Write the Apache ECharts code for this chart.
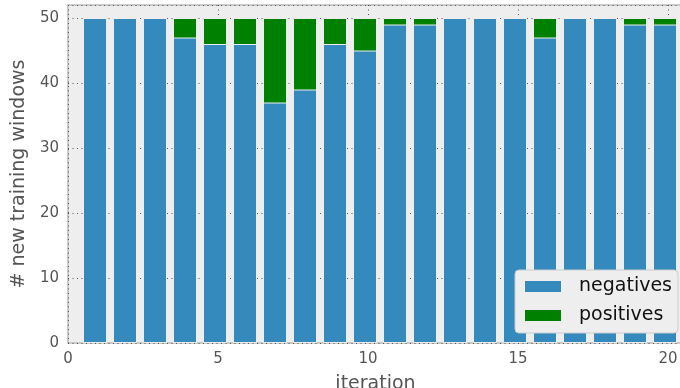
<!DOCTYPE html>
<html><head><meta charset="utf-8">
<script src="https://cdn.jsdelivr.net/npm/echarts@6/dist/echarts.min.js"></script>
<style>html,body{margin:0;padding:0;background:#fff}#c{width:680px;height:388px}</style>
</head><body><div id="c"></div>
<script>
const iterations = [1,2,3,4,5,6,7,8,9,10,11,12,13,14,15,16,17,18,19,20];
const negatives = [50,50,50,47,46,46,37,39,46,45,49,49,50,50,50,47,50,50,49,49];
const positives = [0,0,0,3,4,4,13,11,4,5,1,1,0,0,0,3,0,0,1,1];
const xTicks = [0,5,10,15,20];
const yTicks = [0,10,20,30,40,50];
const BAR_W = 0.8;
// bars drawn with edge alignment at (iteration - 0.5), width 0.8 -> center offset
const center = it => it - 0.5 + BAR_W/2;
// stacked top of positives = negatives + positives
const stackTop = negatives.map((v,i)=>v+positives[i]);

const chart = echarts.init(document.getElementById('c'), null, {renderer:'canvas'});
const font = 'DejaVu Sans';
chart.setOption({
  animation:false,
  backgroundColor:'#ffffff',
  grid:{show:true, left:68, right:-3, top:5, bottom:45, outerBoundsMode:'none', containLabel:false,
        backgroundColor:'#eeeeee', borderColor:'#bcbcbc', borderWidth:1.5},
  legend:{
    right:2, bottom:55, orient:'vertical', itemWidth:38, itemHeight:13, itemGap:10,
    backgroundColor:'#eeeeee', borderColor:'#cccccc', borderWidth:1, borderRadius:4,
    padding:[7,6,8,8],
    textStyle:{fontFamily:font, fontSize:19, lineHeight:19, color:'#111', padding:[0,0,0,12]},
    data:[{name:'negatives', icon:'rect'},{name:'positives', icon:'rect'}]
  },
  xAxis:{
    type:'value', min:0, max:20.5, interval:5,
    name:'iteration', nameLocation:'middle', nameGap:32,
    nameTextStyle:{fontFamily:font, fontSize:19, color:'#555', verticalAlign:'top'},
    axisLine:{show:false}, axisTick:{show:false},
    axisLabel:{fontFamily:font, fontSize:15, color:'#555', margin:9, showMaxLabel:false,
      formatter:v => xTicks.includes(v) ? String(v) : ''},
    splitLine:{show:true, lineStyle:{color:'#555', type:[1,3.5], width:1}}
  },
  yAxis:{
    type:'value', min:0, max:52, interval:10,
    name:'# new training windows', nameLocation:'middle', nameGap:37,
    nameTextStyle:{fontFamily:font, fontSize:19, color:'#555'},
    axisLine:{show:false}, axisTick:{show:false},
    axisLabel:{fontFamily:font, fontSize:15, color:'#555', margin:9, showMaxLabel:false,
      formatter:v => yTicks.includes(v) ? String(v) : ''},
    splitLine:{show:true, lineStyle:{color:'#555', type:[1,3.5], width:1}}
  },
  series:[
    {name:'positives', type:'bar', barWidth:24, barGap:'-100%', color:'#008000',
     itemStyle:{color:'#008000', borderColor:'#eeeeee', borderWidth:1},
     data: iterations.map((it,i)=>[center(it), stackTop[i]])},
    {name:'negatives', type:'bar', barWidth:24, barGap:'-100%', color:'#348ABD',
     itemStyle:{color:'#348ABD', borderColor:'#eeeeee', borderWidth:1},
     data: iterations.map((it,i)=>[center(it), negatives[i]])}
  ]
});
</script></body></html>
